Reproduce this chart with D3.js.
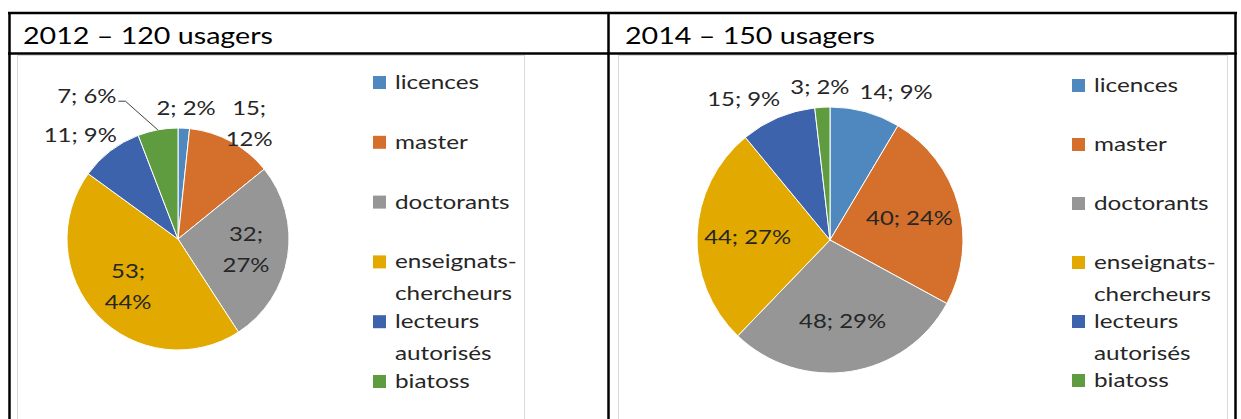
<!DOCTYPE html>
<html>
<head>
<meta charset="utf-8">
<script src="https://cdn.jsdelivr.net/npm/d3@7"></script>
<style>
  body { margin: 0; background: #fff; }
  text { font-family: Lato, "Open Sans", sans-serif; }
</style>
</head>
<body>
<div class="container"></div>
<script>
// categories, in slice order (clockwise from 12 o'clock)
var categories = ["licences", "master", "doctorants", "enseignats-chercheurs", "lecteurs autorisés", "biatoss"];
var legendLines = [["licences"], ["master"], ["doctorants"], ["enseignats-", "chercheurs"], ["lecteurs", "autorisés"], ["biatoss"]];
var colors = ["#4E88BE", "#D4702C", "#969696", "#E2AA00", "#3D63AC", "#5F9B3F"];

var titles = ["2012 – 120 usagers", "2014 – 150 usagers"];
var values2012 = [2, 15, 32, 53, 11, 7];
var percents2012 = [2, 12, 27, 44, 9, 6];
var values2014 = [14, 40, 48, 44, 15, 3];
var percents2014 = [9, 24, 29, 27, 9, 2];

const WIDTH = 1241;
const HEIGHT = 419;
const LABEL_SIZE = 19;
const LINE_H = 31;
const CAP = 14;
const GAP = 13;
const PAD_X = 10;
const LEADER = 30;

var translate = (x, y) => `translate(${x},${y})`;

var panels = [
    { title: titles[0], values: values2012, percents: percents2012, titleX: 23,
      box: [17, 524], cx: 178, cy: 239, r: 111, legendX: 373, legendY: [89, 388], wrapAt: 10 },
    { title: titles[1], values: values2014, percents: percents2014, titleX: 625,
      box: [618, 1227], cx: 830, cy: 240, r: 133, legendX: 1072, legendY: [92, 387], wrapAt: 101 }
];

var svg = d3.select('.container').append('svg')
    .attr('width', WIDTH)
    .attr('height', HEIGHT);

var measure = function (str, size) {
    let t = svg.append('text').attr('font-size', size).text(str);
    let w = t.node().getComputedTextLength();
    t.remove();
    return w;
};

// the source text is rendered wider than the fonts we have, stretch it
const SX_TITLE = 250 / measure(titles[0], 24);
const SX_LEGEND = 84 / measure('licences', 20);
const SX_LABEL = 87 / measure('48; 29%', LABEL_SIZE);

// chart area boxes
panels.forEach(p => {
    svg.append('rect')
        .attr('x', p.box[0] + 0.5)
        .attr('y', 55.5)
        .attr('width', p.box[1] - p.box[0])
        .attr('height', 400)
        .attr('fill', '#fff')
        .attr('stroke', '#d9d9d9');
});

var overlap = (a, b) => (a.x - a.w / 2 < b.x + b.w / 2 + PAD_X && b.x - b.w / 2 < a.x + a.w / 2 + PAD_X &&
    a.y - a.h / 2 < b.y + b.h / 2 + 2 && b.y - b.h / 2 < a.y + a.h / 2 + 2);

var drawPanel = function (p) {
    let data = categories.map((c, i) => ({ cat: c, value: p.values[i], pct: p.percents[i], color: colors[i], lines: legendLines[i] }));
    let total = d3.sum(p.values);

    let pie = d3.pie().sort(null).value(d => d.value);
    let arcs = pie(data);
    let arc = d3.arc().innerRadius(0).outerRadius(p.r);
    let inner = d3.arc().innerRadius(p.r * 0.62).outerRadius(p.r * 0.62);

    let g = svg.append('g').attr('transform', translate(p.cx, p.cy));

    g.append('g').selectAll('path')
        .data(arcs)
        .enter().append('path')
        .attr('d', arc)
        .attr('fill', d => d.data.color)
        .attr('stroke', '#fff')
        .attr('stroke-width', 1);

    // data labels
    let labels = arcs.map(a => {
        let mid = (a.startAngle + a.endAngle) / 2;
        let lines = a.data.pct >= p.wrapAt ? [a.data.value + ';', a.data.pct + '%'] : [a.data.value + '; ' + a.data.pct + '%'];
        let w = d3.max(lines, s => measure(s, LABEL_SIZE)) * SX_LABEL;
        let h = CAP + (lines.length - 1) * LINE_H;
        let inside = a.value / total >= 0.2;
        let x, y;
        if (inside) {
            [x, y] = inner.centroid(a);
        } else {
            let rr = p.r + GAP;
            x = Math.sin(mid) * (rr + w / 2);
            y = -Math.cos(mid) * (rr + CAP / 2);
        }
        return { lines, w, h, x, y, x0: x, mid, inside };
    });

    let outside = labels.filter(d => !d.inside);
    for (let pass = 0; pass < 4; pass++) {
        outside.forEach(a => outside.forEach(b => {
            if (a === b || !overlap(a, b)) return;
            let m = Math.abs(Math.sin(a.mid)) > Math.abs(Math.sin(b.mid)) ? a : b;
            let o = m === a ? b : a;
            if (m.x < o.x) m.x = o.x - o.w / 2 - PAD_X - m.w / 2;
            else m.x = o.x + o.w / 2 + PAD_X + m.w / 2;
        }));
    }

    // labels pushed away from their slice get a leader line
    outside.filter(d => Math.abs(d.x - d.x0) > 18).forEach(d => {
        let dir = d.x < d.x0 ? -1 : 1;
        d.x += dir * LEADER;
        d.y -= CAP;
        let ax = Math.sin(d.mid) * p.r, ay = -Math.cos(d.mid) * p.r;
        let sx = d.x - dir * (d.w / 2 + 2), sy = d.y + 5;
        g.append('path')
            .attr('d', `M${sx},${sy}H${sx - dir * 7}L${ax},${ay}`)
            .attr('fill', 'none')
            .attr('stroke', '#404040')
            .attr('stroke-width', 1);
    });

    g.append('g').selectAll('text')
        .data(labels)
        .enter().append('text')
        .attr('transform', d => translate(d.x, d.y - (d.lines.length - 1) * LINE_H / 2 + 7) + ` scale(${SX_LABEL},1)`)
        .attr('text-anchor', 'middle')
        .attr('font-size', LABEL_SIZE)
        .attr('fill', '#262626')
        .selectAll('tspan')
        .data(d => d.lines)
        .enter().append('tspan')
        .attr('x', 0)
        .attr('dy', (d, i) => i ? LINE_H : 0)
        .text(d => d);

    // legend
    let ly = d3.scalePoint().domain(categories).range(p.legendY);
    let leg = svg.append('g').selectAll('g')
        .data(data)
        .enter().append('g')
        .attr('transform', d => translate(p.legendX, ly(d.cat)));

    leg.append('rect')
        .attr('y', -13)
        .attr('width', 13)
        .attr('height', 13)
        .attr('fill', d => d.color);

    leg.append('text')
        .attr('transform', translate(22, 0) + ` scale(${SX_LEGEND},1)`)
        .attr('font-size', 20)
        .attr('fill', '#262626')
        .selectAll('tspan')
        .data(d => d.lines)
        .enter().append('tspan')
        .attr('x', 0)
        .attr('dy', (d, i) => i ? 32 : 0)
        .text(d => d);

    // cell title
    svg.append('text')
        .attr('transform', translate(p.titleX, 44) + ` scale(${SX_TITLE},1)`)
        .attr('font-size', 24)
        .attr('fill', '#000')
        .text(p.title);
};

panels.forEach(drawPanel);

// table grid
var grid = svg.append('g')
    .attr('stroke', '#000')
    .attr('stroke-width', 2.5);

[13, 53.5].forEach(y => grid.append('line')
    .attr('x1', 8).attr('x2', 1237).attr('y1', y).attr('y2', y));

[9.5, 608.5, 1235.5].forEach(x => grid.append('line')
    .attr('x1', x).attr('x2', x).attr('y1', 12).attr('y2', HEIGHT));
</script>
</body>
</html>
